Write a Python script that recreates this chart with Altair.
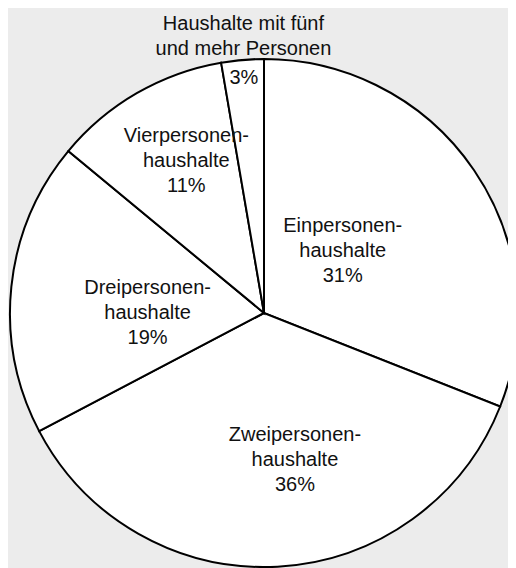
import altair as alt
import pandas as pd

names = ["Einpersonen-\nhaushalte", "Zweipersonen-\nhaushalte", "Dreipersonen-\nhaushalte",
         "Vierpersonen-\nhaushalte", "Haushalte mit fünf\nund mehr Personen"]
values = [31.0, 36.3, 18.7, 11.3, 2.7]
pct_labels = ["31%", "36%", "19%", "11%", "3%"]

df = pd.DataFrame({"idx": list(range(len(values))), "name": names, "value": values, "pct": pct_labels})

W, H = 488, 494
PAD = {"left": 12, "top": 58, "right": 0, "bottom": 8}
R = 254

base = alt.Chart(df).encode(
    theta=alt.Theta("value:Q", stack=True),
    order=alt.Order("idx:Q"),
)

arcs = base.mark_arc(radius=R, fill="white", stroke="black", strokeWidth=2)

font = dict(font="Liberation Sans", fontSize=20, lineHeight=25, color="#111111",
            align="center", baseline="middle", lineBreak="\n")

def label_layer(i, expr, radius, dx=0, dy=0):
    return base.transform_calculate(
        lab=f"datum.idx == {i} ? {expr} : ''"
    ).mark_text(radius=radius, dx=dx, dy=dy, **font).encode(text="lab:N")

layers = [arcs,
          label_layer(0, "datum.name + '\\n' + datum.pct", 100, -4, -31),
          label_layer(1, "datum.name + '\\n' + datum.pct", 148, 23, -26),
          label_layer(2, "datum.name + '\\n' + datum.pct", 117, 0, -13),
          label_layer(3, "datum.name + '\\n' + datum.pct", 171, 8, -29),
          label_layer(4, "datum.pct", 237, 0, 1),
          label_layer(4, "datum.name", 278, 3, -12)]

chart = alt.layer(*layers).properties(
    width=W, height=H, padding=PAD, background="#ececec",
    autosize=alt.AutoSizeParams(type="none"),
).configure_view(stroke=None)

chart.save("out.html", embed_options={"renderer": "svg", "actions": False})
